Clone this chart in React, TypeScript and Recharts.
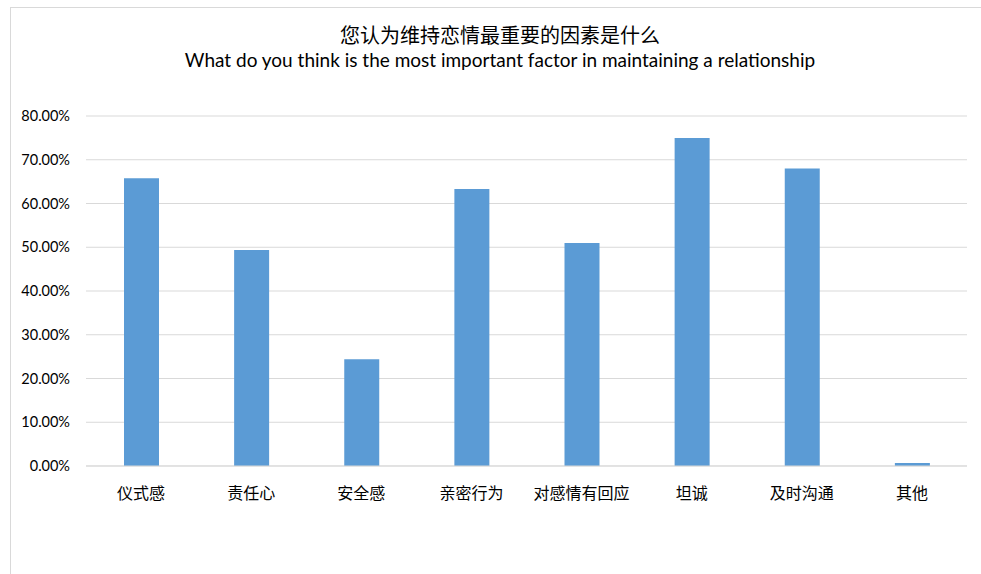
import { BarChart, Bar, XAxis, YAxis, CartesianGrid } from 'recharts';

const categories = ['仪式感', '责任心', '安全感', '亲密行为', '对感情有回应', '坦诚', '及时沟通', '其他'];
const shares = [0.658, 0.494, 0.244, 0.633, 0.51, 0.75, 0.68, 0.007];
const yTicks = [0, 0.1, 0.2, 0.3, 0.4, 0.5, 0.6, 0.7, 0.8];

const titleZh = '您认为维持恋情最重要的因素是什么';
const titleEn = 'What do you think is the most important factor in maintaining a relationship';

const data = categories.map((name, i) => ({ name, value: shares[i] }));

export default function App() {
  return (
    <div style={{ position: 'absolute', top: 0, left: 0, width: 981, height: 574, background: '#fff', overflow: 'hidden' }}>
      <div
        style={{
          position: 'absolute',
          left: 10,
          top: 7,
          width: 990,
          height: 600,
          border: '1px solid #d9d9d9',
          boxSizing: 'border-box',
        }}
      />
      <div
        style={{
          position: 'absolute',
          left: 0,
          width: 1000,
          top: 22,
          textAlign: 'center',
          fontFamily: '"Noto Sans CJK SC", sans-serif',
          fontSize: 20,
          lineHeight: '26px',
          color: '#000',
        }}
      >
        {titleZh}
      </div>
      <div
        style={{
          position: 'absolute',
          left: 0,
          width: 1000,
          top: 48,
          textAlign: 'center',
          fontFamily: 'Lato, "Open Sans", sans-serif',
          fontSize: 19,
          lineHeight: '24px',
          color: '#000',
        }}
      >
        {titleEn}
      </div>
      <div style={{ position: 'absolute', left: 0, top: 0 }}>
        <BarChart width={981} height={574} data={data} margin={{ top: 116, right: 14, bottom: 78, left: 0 }}>
          <CartesianGrid vertical={false} stroke="#d9d9d9" />
          <XAxis
            dataKey="name"
            height={30}
            tickLine={false}
            axisLine={{ stroke: '#d9d9d9' }}
            tickMargin={16}
            interval={0}
            tick={{ fontFamily: '"Noto Sans CJK SC", sans-serif', fontSize: 16, fill: '#000' }}
          />
          <YAxis
            width={86}
            domain={[0, 0.8]}
            ticks={yTicks}
            tickLine={false}
            axisLine={false}
            tickMargin={10}
            tickFormatter={(v: number) => (v * 100).toFixed(2) + '%'}
            tick={{ fontFamily: 'Lato, sans-serif', fontSize: 14.5, fill: '#000' }}
          />
          <Bar dataKey="value" fill="#5b9bd5" barSize={35} isAnimationActive={false} />
        </BarChart>
      </div>
    </div>
  );
}
